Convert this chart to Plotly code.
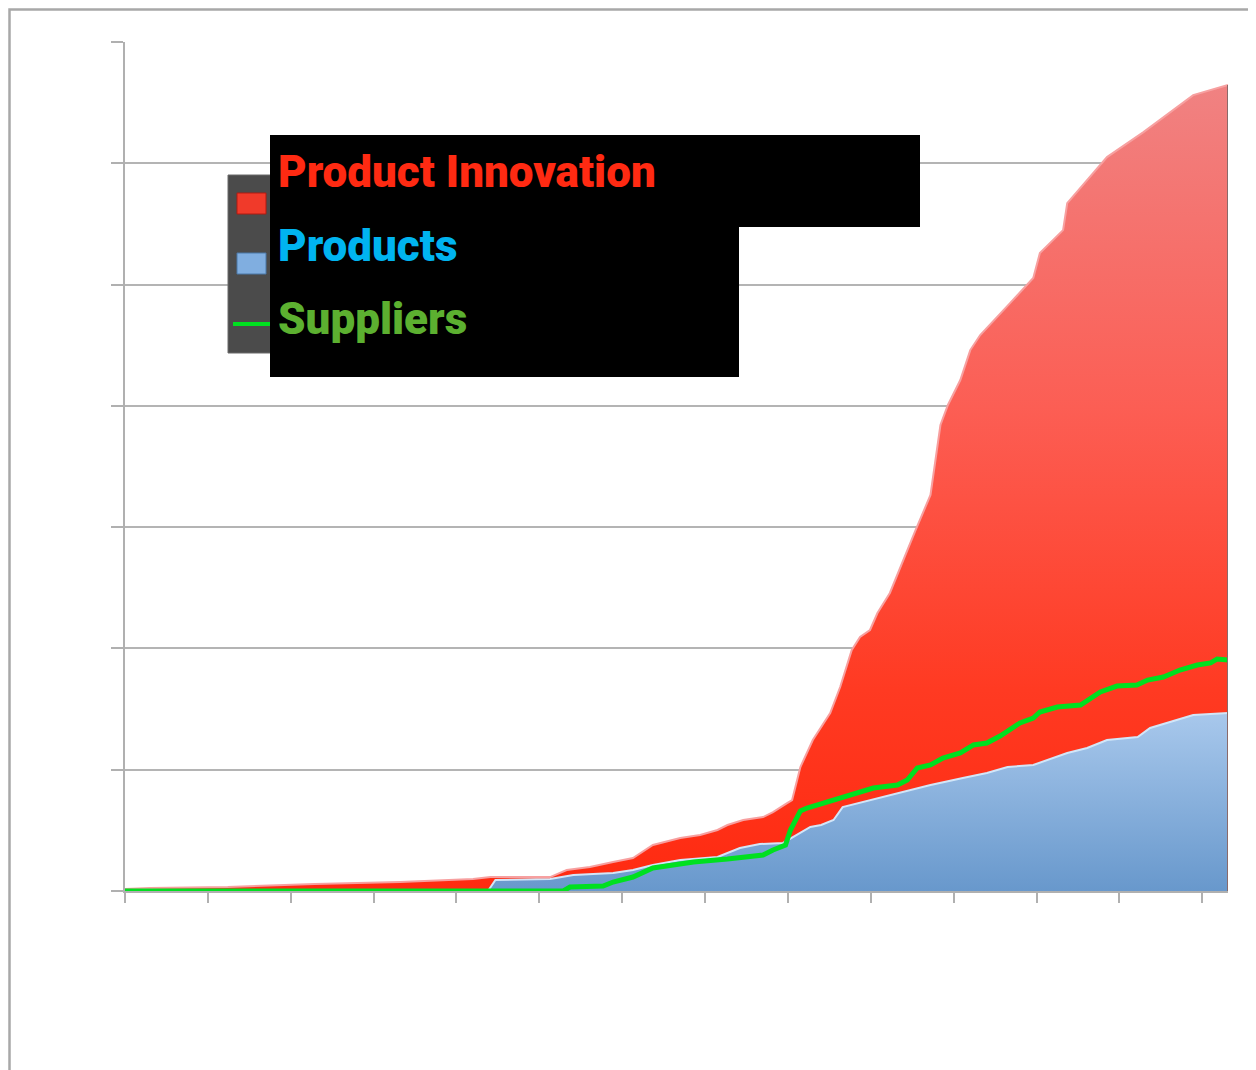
import plotly.graph_objects as go

# ---- data (x in axis-tick units, y in chart units) ----
red_x = [0, 0.30, 1.24, 2.29, 3.32, 3.80, 4.20, 4.41, 5.13, 5.33, 5.61, 5.89, 6.13, 6.37, 6.70, 6.94,
         7.15, 7.27, 7.46, 7.70, 7.82, 7.99, 8.05, 8.15, 8.30, 8.51, 8.63, 8.77, 8.87, 8.99, 9.08,
         9.23, 9.39, 9.54, 9.72, 9.84, 9.93, 10.08, 10.20, 10.32, 10.68, 10.96, 11.04, 11.32, 11.37,
         11.85, 12.29, 12.89, 13.31]
red_y = [1.6, 2.5, 3.3, 5.8, 7.4, 9.1, 9.9, 11.5, 11.5, 17.3, 19.8, 23.9, 27.2, 37.9, 43.7, 46.2,
         50.3, 54.4, 58.5, 61.0, 65.1, 72.5, 75.0, 102.2, 124.5, 146.7, 168.2, 198.7, 209.4, 215.2, 229.2,
         245.7, 272.9, 297.6, 326.5, 384.2, 400.7, 421.3, 446.0, 458.4, 484.7, 505.4, 526.0, 544.9, 567.2,
         605.1, 625.7, 656.2, 664.5]

blue_x = [0, 4.38, 4.47, 5.13, 5.41, 5.89, 6.13, 6.37, 6.70, 7.15, 7.42, 7.66, 7.94, 8.15, 8.27,
          8.40, 8.55, 8.66, 8.91, 9.32, 9.72, 10.11, 10.40, 10.65, 10.96, 11.37, 11.61, 11.85, 12.22,
          12.37, 12.70, 12.89, 13.31]
blue_y = [0, 0, 9.1, 9.9, 13.2, 14.8, 17.3, 21.4, 25.6, 28.0, 35.4, 38.7, 39.6, 47.8, 52.8,
          54.4, 58.5, 69.2, 73.4, 80.8, 87.4, 93.2, 97.3, 102.2, 103.9, 113.8, 117.9, 124.5, 127.0,
          134.4, 141.0, 145.1, 146.7]

green_x = [0, 5.29, 5.37, 5.77, 5.89, 6.13, 6.37, 6.61, 6.86, 7.27, 7.42, 7.70, 7.82, 7.97, 8.03,
           8.15, 8.23, 8.47, 8.63, 8.79, 9.03, 9.32, 9.44, 9.56, 9.72, 9.87, 10.08, 10.24, 10.40,
           10.56, 10.80, 10.96, 11.04, 11.25, 11.53, 11.77, 11.97, 12.21, 12.34, 12.53, 12.73, 12.94,
           13.10, 13.18, 13.31]
green_y = [0, 0, 3.3, 4.1, 7.4, 11.5, 19.0, 21.4, 23.9, 26.4, 27.2, 29.7, 33.8, 37.9, 50.3,
           66.0, 68.4, 73.4, 76.7, 80.8, 84.9, 87.4, 91.5, 101.4, 103.9, 109.6, 113.8, 120.4, 122.0,
           127.8, 138.5, 142.6, 147.6, 151.7, 153.3, 164.1, 169.0, 169.8, 173.9, 176.4, 182.2, 186.3,
           188.0, 191.3, 190.4]

x_ticks = list(range(14))
y_ticks = [0, 100, 200, 300, 400, 500, 600, 700]
legend_labels = ["Product Innovation", "Products", "Suppliers"]
legend_colors = ["#ff2a12", "#00b4f0", "#5cb030"]

fig = go.Figure()
fig.add_trace(go.Scatter(
    x=red_x, y=red_y, mode="lines", fill="tozeroy",
    line=dict(color="#f7a0a0", width=2),
    fillgradient=dict(type="vertical", start=0, stop=max(red_y),
                      colorscale=[[0, "#ff2a10"], [0.25, "#ff3a22"], [0.6, "#fc5e54"], [1, "#f08282"]]),
    showlegend=False, hoverinfo="skip"))
fig.add_trace(go.Scatter(
    x=blue_x, y=blue_y, mode="lines", fill="tozeroy",
    line=dict(color="#d2e6f8", width=2),
    fillgradient=dict(type="vertical", start=0, stop=max(blue_y),
                      colorscale=[[0, "#6898cc"], [1, "#a8c8ec"]]),
    showlegend=False, hoverinfo="skip"))
fig.add_trace(go.Scatter(
    x=green_x, y=green_y, mode="lines",
    line=dict(color="#00e020", width=5),
    showlegend=False, hoverinfo="skip"))

OFF = 8  # page body margin
W, H = 1248, 1062
L, R, T, B = 125 - OFF, W - (1228 - OFF), 42 - OFF, H - (891 - OFF)
pw, ph = W - L - R, H - T - B


def px(x):
    return (x - OFF - L) / pw


def py(y):
    return (H - B - (y - OFF)) / ph


shapes = []
# outer frame (as close to the page corner as the figure allows)
shapes.append(dict(type="rect", xref="paper", yref="paper", x0=px(9.5), x1=px(1280), y0=py(9.5), y1=py(1100),
                   line=dict(color="#a8a8a8", width=2.5), fillcolor="rgba(0,0,0,0)", layer="below"))
# right-edge shadow of the area
shapes.append(dict(type="line", xref="x", yref="y", x0=red_x[-1], x1=red_x[-1], y0=0, y1=red_y[-1],
                   line=dict(color="#8a6a6a", width=2)))
# legend background
shapes.append(dict(type="rect", xref="paper", yref="paper", x0=px(228), x1=px(280), y0=py(353), y1=py(175),
                   line=dict(color="#6a6a6a", width=1), fillcolor="#4b4b4b"))
shapes.append(dict(type="rect", xref="paper", yref="paper", x0=px(237), x1=px(266), y0=py(214), y1=py(193),
                   line=dict(color="#b01a10", width=1), fillcolor="#f03a2a"))
shapes.append(dict(type="rect", xref="paper", yref="paper", x0=px(237), x1=px(266), y0=py(274), y1=py(253),
                   line=dict(color="#4a78a8", width=1), fillcolor="#80aee0"))
shapes.append(dict(type="line", xref="paper", yref="paper", x0=px(233), x1=px(270), y0=py(324), y1=py(324),
                   line=dict(color="#00e020", width=4)))
# black label boxes
shapes.append(dict(type="rect", xref="paper", yref="paper", x0=px(270), x1=px(920), y0=py(227), y1=py(135),
                   line=dict(width=0), fillcolor="#000000"))
shapes.append(dict(type="rect", xref="paper", yref="paper", x0=px(270), x1=px(739), y0=py(377), y1=py(226),
                   line=dict(width=0), fillcolor="#000000"))

annotations = []
label_y = [172, 246, 319]
for lab, col, yy in zip(legend_labels, legend_colors, label_y):
    annotations.append(dict(text=lab, xref="paper", yref="paper", x=px(276), y=py(yy),
                            xanchor="left", yanchor="middle", showarrow=False,
                            font=dict(family="Roboto, DejaVu Sans, sans-serif",
                                      weight=900, size=44, color=col)))

fig.update_layout(
    width=W, height=H, margin=dict(l=L, r=R, t=T, b=B),
    paper_bgcolor="white", plot_bgcolor="white",
    shapes=shapes, annotations=annotations,
    xaxis=dict(range=[0, 13.31], tickvals=x_ticks, showticklabels=False, showgrid=False, zeroline=False,
               showline=True, linecolor="#b0b0b0", linewidth=2, ticks="outside", ticklen=10,
               tickcolor="#b0b0b0", tickwidth=2),
    yaxis=dict(range=[0, 700], tickvals=y_ticks, showticklabels=False, showgrid=True, gridcolor="#b4b4b4",
               gridwidth=2, zeroline=False, showline=True, linecolor="#b0b0b0", linewidth=2,
               ticks="outside", ticklen=12, tickcolor="#b0b0b0", tickwidth=2),
)

fig.write_html("out.html")
